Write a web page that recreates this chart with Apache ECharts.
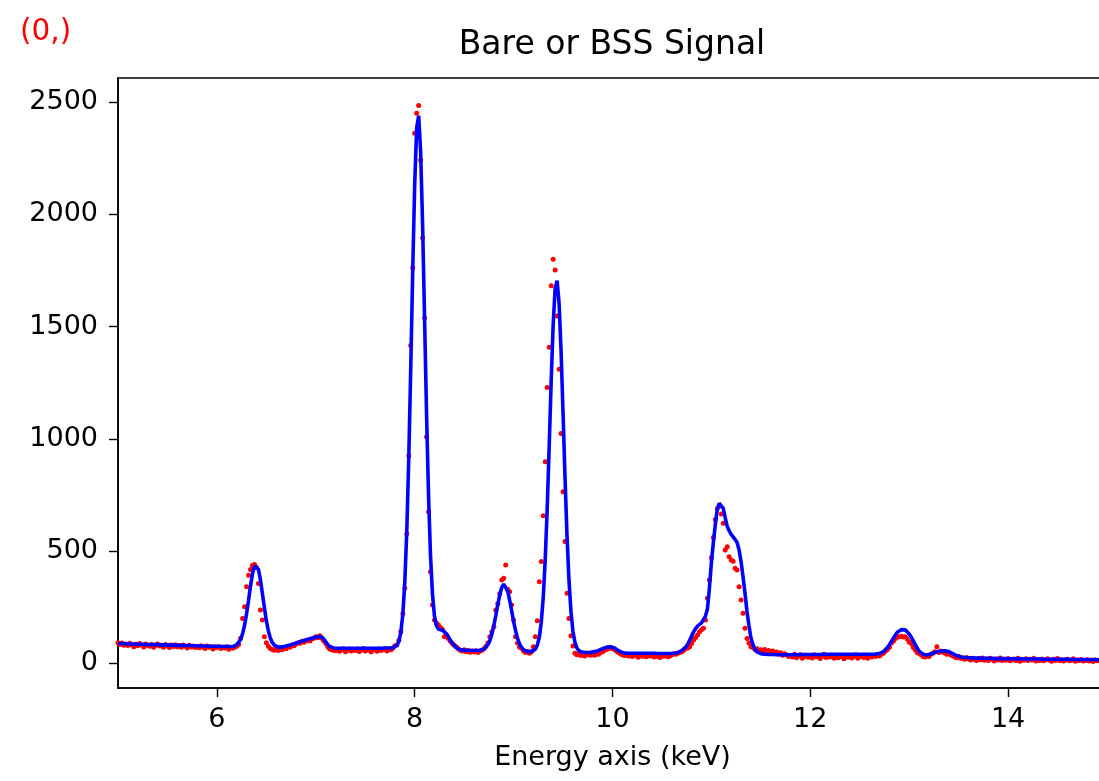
<!DOCTYPE html>
<html>
<head>
<meta charset="utf-8">
<title>Bare or BSS Signal</title>
<script src="https://cdn.jsdelivr.net/npm/echarts@6/dist/echarts.min.js"></script>
<style>
html, body { margin: 0; padding: 0; background: #fff; }
#chart { width: 1099px; height: 781px; }
</style>
</head>
<body>
<div id="chart"></div>
<script>
// spectrum channels: 5.00 keV upwards, 0.02 keV per channel
var energyStart = 5.0;
var energyStep = 0.02;

// measured counts (red dots), 10 channels per row
var measured = [
    92, 84, 90, 80, 86, 79, 89, 83, 74, 85,
    78, 88, 81, 73, 86, 80, 76, 84, 72, 80,
    86, 77, 80, 72, 84, 79, 70, 81, 75, 83,
    74, 79, 71, 82, 76, 68, 80, 73, 77, 70,
    75, 69, 78, 72, 66, 77, 71, 74, 64, 73,
    70, 75, 66, 72, 68, 74, 63, 71, 67, 72,
    76, 84, 112, 200, 252, 341, 392, 418, 436, 440,
    428, 356, 237, 193, 118, 92, 76, 66, 62, 58,
    64, 57, 66, 60, 70, 65, 74, 72, 80, 78,
    86, 92, 89, 97, 94, 100, 104, 99, 108, 112,
    118, 114, 123, 112, 100, 88, 74, 64, 60, 58,
    56, 62, 54, 60, 65, 52, 58, 63, 55, 61,
    57, 64, 53, 60, 66, 55, 62, 58, 52, 63,
    59, 54, 64, 57, 61, 66, 55, 63, 60, 68,
    78, 82, 103, 141, 221, 334, 577, 925, 1415, 1762,
    2361, 2450, 2484, 2242, 1896, 1539, 1009, 675, 408, 260,
    193, 180, 171, 160, 151, 118, 125, 111, 98, 88,
    80, 74, 65, 58, 55, 60, 52, 57, 49, 55,
    50, 56, 48, 55, 58, 65, 75, 90, 118, 140,
    163, 237, 265, 310, 371, 379, 438, 330, 319, 260,
    193, 118, 90, 72, 67, 55, 48, 53, 45, 51,
    74, 118, 190, 363, 453, 657, 898, 1228, 1408, 1682,
    1800, 1752, 1547, 1310, 1024, 764, 542, 312, 200, 123,
    77, 45, 38, 42, 35, 40, 33, 44, 38, 36,
    42, 36, 45, 40, 48, 52, 58, 62, 66, 70,
    65, 62, 55, 48, 42, 38, 35, 40, 33, 36,
    30, 38, 34, 27, 36, 31, 40, 29, 35, 32,
    37, 28, 34, 30, 26, 35, 31, 38, 29, 33,
    38, 42, 40, 45, 48, 52, 58, 66, 68, 74,
    88, 104, 115, 126, 140, 150, 156, 193, 290, 371,
    470, 560, 640, 690, 700, 665, 624, 505, 519, 475,
    460, 455, 423, 416, 341, 282, 223, 156, 111, 90,
    74, 70, 62, 65, 58, 60, 55, 62, 52, 57,
    48, 55, 44, 50, 41, 47, 36, 43, 38, 30,
    35, 28, 40, 25, 33, 38, 22, 30, 36, 27,
    32, 24, 38, 29, 35, 21, 31, 40, 26, 33,
    28, 36, 22, 31, 25, 34, 29, 20, 32, 27,
    35, 24, 30, 38, 22, 29, 33, 26, 36, 23,
    31, 28, 35, 30, 38, 33, 40, 45, 55, 62,
    72, 90, 98, 110, 116, 118, 120, 117, 118, 108,
    95, 88, 72, 60, 48, 44, 38, 30, 28, 34,
    30, 40, 45, 52, 74, 48, 55, 50, 46, 40,
    44, 38, 34, 28, 25, 30, 22, 24, 18, 26,
    20, 15, 23, 18, 12, 21, 16, 24, 14, 19,
    13, 22, 17, 10, 19, 15, 24, 12, 18, 14,
    21, 11, 16, 19, 13, 23, 9, 17, 14, 20,
    12, 18, 15, 22, 10, 16, 13, 19, 11, 17,
    20, 14, 9, 18, 13, 21, 12, 16, 10, 15,
    18, 11, 14, 20, 9, 15, 12, 17, 10, 13,
    16, 10, 13, 8, 15, 11, 14, 9, 12, 10
];

// model fit (blue line), same channels
var fitted = [
    88, 88, 88, 87, 87, 87, 86, 86, 86, 86,
    85, 85, 85, 85, 84, 84, 84, 84, 83, 83,
    83, 83, 82, 82, 82, 82, 81, 81, 81, 81,
    80, 80, 80, 80, 79, 79, 79, 79, 78, 78,
    78, 78, 77, 77, 77, 77, 76, 76, 76, 76,
    76, 76, 75, 75, 75, 75, 75, 74, 74, 77,
    82, 90, 106, 132, 170, 221, 281, 345, 399, 434,
    441, 418, 372, 311, 248, 190, 145, 113, 93, 81,
    75, 72, 72, 73, 75, 77, 80, 82, 85, 87,
    90, 93, 96, 99, 101, 104, 106, 109, 111, 114,
    116, 119, 121, 117, 108, 96, 84, 75, 70, 68,
    67, 67, 67, 67, 67, 67, 67, 67, 67, 67,
    67, 67, 67, 67, 67, 67, 67, 67, 67, 67,
    67, 67, 67, 67, 67, 68, 68, 68, 68, 70,
    72, 80, 98, 139, 219, 362, 589, 913, 1315, 1749,
    2134, 2385, 2439, 2281, 1952, 1533, 1108, 746, 478, 307,
    210, 168, 152, 150, 148, 143, 132, 119, 103, 90,
    79, 70, 64, 61, 59, 58, 58, 58, 58, 57,
    57, 57, 57, 58, 59, 63, 70, 83, 101, 130,
    168, 213, 260, 305, 338, 353, 348, 322, 282, 235,
    187, 145, 111, 87, 71, 61, 56, 52, 51, 52,
    55, 63, 81, 116, 183, 295, 464, 692, 968, 1257,
    1508, 1670, 1704, 1603, 1391, 1114, 825, 569, 370, 230,
    143, 94, 68, 56, 51, 49, 48, 48, 48, 49,
    50, 52, 54, 57, 61, 65, 69, 72, 74, 74,
    72, 68, 62, 56, 51, 48, 46, 45, 45, 45,
    45, 45, 45, 45, 45, 45, 45, 45, 45, 45,
    45, 45, 45, 44, 44, 44, 44, 44, 44, 44,
    44, 45, 46, 48, 52, 57, 63, 72, 85, 103,
    122, 140, 155, 166, 174, 180, 188, 210, 243, 335,
    450, 540, 620, 688, 712, 715, 690, 648, 610, 590,
    574, 563, 551, 538, 505, 452, 385, 312, 230, 168,
    112, 84, 63, 51, 46, 43, 41, 40, 39, 39,
    39, 39, 39, 38, 38, 38, 38, 38, 38, 38,
    38, 38, 38, 38, 39, 39, 39, 39, 39, 39,
    39, 39, 39, 39, 39, 39, 40, 40, 40, 40,
    40, 40, 40, 40, 40, 40, 40, 40, 40, 40,
    40, 40, 40, 40, 40, 40, 40, 40, 40, 40,
    40, 40, 40, 41, 42, 44, 47, 52, 60, 70,
    83, 97, 112, 126, 138, 146, 150, 151, 149, 142,
    131, 117, 101, 84, 68, 55, 46, 40, 37, 37,
    39, 42, 45, 48, 51, 53, 55, 56, 56, 55,
    52, 48, 43, 38, 34, 31, 29, 27, 26, 25,
    25, 24, 24, 24, 23, 23, 23, 23, 22, 22,
    22, 22, 22, 21, 21, 21, 21, 21, 21, 20,
    20, 20, 20, 20, 20, 20, 20, 19, 19, 19,
    19, 19, 19, 19, 19, 19, 19, 19, 18, 18,
    18, 18, 18, 18, 18, 18, 18, 18, 18, 18,
    18, 17, 17, 17, 17, 17, 17, 17, 17, 17,
    17, 17, 17, 17, 17, 17, 16, 16, 16, 16
];

var xTicks = [6, 8, 10, 12, 14];
var yTicks = [0, 500, 1000, 1500, 2000, 2500];

function toPairs(values) {
    return values.map(function (v, i) {
        return [+(energyStart + i * energyStep).toFixed(2), v];
    });
}

var font = 'DejaVu Sans';

var myChart = echarts.init(document.getElementById('chart'));
var option = {
    animation: false,
    backgroundColor: '#ffffff',
    graphic: [
        {
            type: 'text', left: 20, top: 17,
            style: { text: '(0,)', fill: '#ff0000', font: '29.5px "DejaVu Sans"' }
        },
        {
            type: 'text', x: 612, y: 45,
            style: {
                text: 'Bare or BSS Signal', fill: '#000', font: '33px "DejaVu Sans"',
                textAlign: 'center', textVerticalAlign: 'middle'
            }
        }
    ],
    // plot box runs past the right edge of the picture (x = 15 keV is off-canvas)
    grid: {
        left: 118, top: 78, width: 989, bottom: 93,
        outerBoundsMode: 'none',
        show: true, borderColor: '#000', borderWidth: 1.6
    },
    xAxis: {
        type: 'value',
        min: 5,
        max: 15,
        name: 'Energy axis (keV)',
        nameLocation: 'middle',
        nameGap: 56,
        nameTextStyle: { color: '#000', fontSize: 27, fontFamily: font },
        axisLine: { show: true, onZero: false, lineStyle: { color: '#000', width: 1.6 } },
        axisTick: { show: true, length: 9, lineStyle: { color: '#000', width: 1.4 }, customValues: xTicks },
        axisLabel: { color: '#000', fontSize: 27, fontFamily: font, margin: 18, customValues: xTicks },
        splitLine: { show: false }
    },
    yAxis: {
        type: 'value',
        min: -110,
        max: 2607,
        axisLine: { show: true, onZero: false, lineStyle: { color: '#000', width: 1.6 } },
        axisTick: { show: true, length: 9, lineStyle: { color: '#000', width: 1.4 }, customValues: yTicks },
        axisLabel: {
            color: '#000', fontSize: 27, fontFamily: font, margin: 20, customValues: yTicks,
            formatter: function (v) { return String(v); }
        },
        splitLine: { show: false }
    },
    series: [
        {
            name: 'data',
            type: 'scatter',
            data: toPairs(measured),
            symbol: 'circle',
            symbolSize: 5,
            itemStyle: { color: '#ff0000', opacity: 1 }
        },
        {
            name: 'fit',
            type: 'line',
            data: toPairs(fitted),
            showSymbol: false,
            lineStyle: { color: '#0000ff', width: 3.6 }
        }
    ]
};
myChart.setOption(option);
</script>
</body>
</html>
